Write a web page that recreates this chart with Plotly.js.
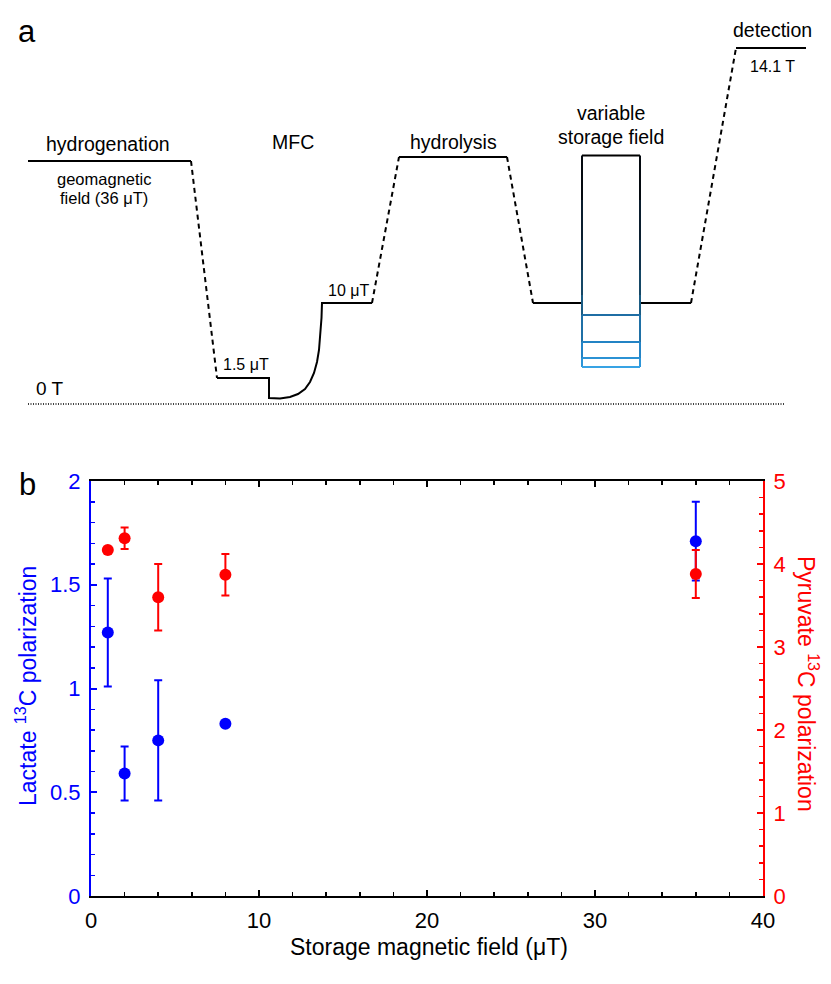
<!DOCTYPE html>
<html>
<head>
<meta charset="utf-8">
<script src="https://cdn.plot.ly/plotly-3.0.1.min.js"></script>
<style>html,body{margin:0;padding:0;background:#fff}#chart{width:831px;height:984px}</style>
</head>
<body>
<div id="chart"></div>
<script>
// ---------- Panel b data ----------
const storageField = [1, 2, 4, 8, 36];                 // µT
const lactatePol = [1.27, 0.59, 0.75, 0.83, 1.71];
const lactateErr = [0.26, 0.13, 0.29, 0, 0.19];
const pyruvatePol = [4.17, 4.31, 3.60, 3.87, 3.88];
const pyruvateErr = [0, 0.13, 0.40, 0.25, 0.29];
const xTickVals = [0, 10, 20, 30, 40];
const leftTickVals = [0, 0.5, 1, 1.5, 2];
const rightTickVals = [0, 1, 2, 3, 4, 5];

// ---------- Panel a schematic (drawn in a 831 x 430 scheme space) ----------
const schemeSolidX = [28,191,null,217,269,269,280,290,298,305,310,314,317,319,320.5,321.5,322,372,null,399,507,null,533,582,null,640,691,null,736,806];
const schemeSolidY = [161,161,null,378,378,398,398.5,397,394,389,382,373,362,350,335,318,303,303,null,157,157,null,303,303,null,303,303,null,48,48];
const schemeDashX = [191,217,null,372,399,null,507,533,null,691,736];
const schemeDashY = [161,378,null,303,157,null,157,303,null,303,48];
const schemeZeroX = [28, 785];
const schemeZeroY = [404, 404];
const boxLeft = 582, boxRight = 640, boxTop = 155.5;
const boxSideStops = [155.5, 200, 240, 270, 295, 315, 342, 358, 367];
const boxSideColors = ['#050a10','#0b1e2e','#10324c','#154766','#1a5c84','#1f70a6','#2484c6','#2d95d8'];
const storageLevels = [315, 342, 358, 367];
const storageColors = ['#1f6ea4','#2383c4','#2b92d4','#38a3e4'];
const schemeLabels = [
  {t:'hydrogenation', x:108, y:144, s:19.5},
  {t:'geomagnetic', x:104, y:179, s:16.5},
  {t:'field (36 μT)', x:104, y:198, s:16.5},
  {t:'MFC', x:293, y:142, s:19.5},
  {t:'hydrolysis', x:453, y:142, s:19.5},
  {t:'variable', x:611, y:113, s:19.5},
  {t:'storage field', x:611, y:137, s:19.5},
  {t:'detection', x:772, y:30, s:19.5},
  {t:'14.1 T', x:772, y:66, s:16},
  {t:'10 μT', x:348, y:290, s:16},
  {t:'1.5 μT', x:246, y:364, s:16},
  {t:'0 T', x:50, y:388, s:19},
  {t:'a', x:27, y:31, s:31}
];

const FONT = 'Arial, "Liberation Sans", Helvetica, sans-serif';
const W = 831, H = 984;
const traces = [];

traces.push({x: schemeSolidX, y: schemeSolidY, xaxis:'x2', yaxis:'y2', mode:'lines',
  line:{color:'#000', width:2}, connectgaps:false, hoverinfo:'skip', showlegend:false});
traces.push({x: schemeDashX, y: schemeDashY, xaxis:'x2', yaxis:'y2', mode:'lines',
  line:{color:'#000', width:2, dash:'5px,4px'}, connectgaps:false, hoverinfo:'skip', showlegend:false});
traces.push({x: schemeZeroX, y: schemeZeroY, xaxis:'x2', yaxis:'y2', mode:'lines',
  line:{color:'#000', width:1.5, dash:'1px,1.5px'}, hoverinfo:'skip', showlegend:false});
// box top
traces.push({x:[boxLeft, boxRight], y:[boxTop, boxTop], xaxis:'x2', yaxis:'y2', mode:'lines',
  line:{color:'#000', width:2}, hoverinfo:'skip', showlegend:false});
// gradient sides
for (let i = 0; i < boxSideColors.length; i++) {
  traces.push({x:[boxLeft, boxLeft, null, boxRight, boxRight],
    y:[boxSideStops[i], boxSideStops[i+1], null, boxSideStops[i], boxSideStops[i+1]],
    xaxis:'x2', yaxis:'y2', mode:'lines', connectgaps:false,
    line:{color: boxSideColors[i], width:2}, hoverinfo:'skip', showlegend:false});
}
for (let i = 0; i < storageLevels.length; i++) {
  traces.push({x:[boxLeft, boxRight], y:[storageLevels[i], storageLevels[i]], xaxis:'x2', yaxis:'y2',
    mode:'lines', line:{color: storageColors[i], width:2}, hoverinfo:'skip', showlegend:false});
}

// panel b
traces.push({x: storageField, y: lactatePol, xaxis:'x', yaxis:'y', mode:'markers', name:'Lactate',
  marker:{color:'#0000ff', size:12},
  error_y:{type:'data', array: lactateErr, visible:true, color:'#0000ff', thickness:2, width:4},
  showlegend:false});
traces.push({x: storageField, y: pyruvatePol, xaxis:'x', yaxis:'y3', mode:'markers', name:'Pyruvate',
  marker:{color:'#ff0000', size:12},
  error_y:{type:'data', array: pyruvateErr, visible:true, color:'#ff0000', thickness:2, width:4},
  showlegend:false});

const px = v => v / W, py = v => 1 - v / H;

const annotations = schemeLabels.map(l => ({
  text: l.t, x: l.x, y: l.y, xref:'x2', yref:'y2', showarrow:false,
  xanchor:'center', yanchor:'middle', font:{family:FONT, size:l.s, color:'#000'}
}));
annotations.push({text:'b', x:px(28), y:py(484), xref:'paper', yref:'paper', showarrow:false,
  xanchor:'center', yanchor:'middle', font:{family:FONT, size:31, color:'#000'}});
annotations.push({text:'Storage magnetic field (μT)', x:px(429), y:py(947), xref:'paper', yref:'paper',
  showarrow:false, xanchor:'center', yanchor:'middle', font:{family:FONT, size:23, color:'#000'}});
annotations.push({text:'Lactate <sup>13</sup>C polarization', x:px(26), y:py(686), xref:'paper', yref:'paper',
  showarrow:false, textangle:-90, xanchor:'center', yanchor:'middle', font:{family:FONT, size:23, color:'#0000ff'}});
annotations.push({text:'Pyruvate <sup>13</sup>C polarization', x:px(808), y:py(684), xref:'paper', yref:'paper',
  showarrow:false, textangle:90, xanchor:'center', yanchor:'middle', font:{family:FONT, size:23, color:'#ff0000'}});

const layout = {
  width: W, height: H,
  margin:{l:0, r:0, t:0, b:0},
  paper_bgcolor:'#fff', plot_bgcolor:'rgba(0,0,0,0)',
  showlegend:false,
  font:{family:FONT, color:'#000'},
  xaxis:{domain:[px(91), px(763)], range:[0, 40], anchor:'y',
    tickvals: xTickVals, ticks:'inside', ticklen:6, tickwidth:2, tickcolor:'#000',
    minor:{dtick:2, tick0:0, ticks:'inside', ticklen:4, tickwidth:1.5, tickcolor:'#000'},
    showline:true, linecolor:'#000', linewidth:2, mirror:'ticks',
    showgrid:false, zeroline:false, tickfont:{family:FONT, size:22, color:'#000'}, ticklabelstandoff:4},
  yaxis:{domain:[1 - 896/H, 1 - 481/H], range:[0, 2], anchor:'x',
    tickvals: leftTickVals, ticks:'inside', ticklen:6, tickwidth:2, tickcolor:'#0000ff',
    minor:{dtick:0.1, tick0:0, ticks:'inside', ticklen:4, tickwidth:1.5, tickcolor:'#0000ff'},
    showline:true, linecolor:'#0000ff', linewidth:2,
    showgrid:false, zeroline:false, tickfont:{family:FONT, size:22, color:'#0000ff'}, ticklabelstandoff:4},
  yaxis3:{domain:[1 - 896/H, 1 - 481/H], range:[0, 5], overlaying:'y', side:'right', anchor:'x',
    tickvals: rightTickVals, ticks:'inside', ticklen:6, tickwidth:2, tickcolor:'#ff0000',
    minor:{dtick:0.2, tick0:0, ticks:'inside', ticklen:4, tickwidth:1.5, tickcolor:'#ff0000'},
    showline:true, linecolor:'#ff0000', linewidth:2,
    showgrid:false, zeroline:false, tickfont:{family:FONT, size:22, color:'#ff0000'}, ticklabelstandoff:4},
  xaxis2:{domain:[0, 1], range:[0, W], anchor:'y2', visible:false, fixedrange:true},
  yaxis2:{domain:[1 - 430/H, 1], range:[430, 0], anchor:'x2', visible:false, fixedrange:true},
  annotations: annotations
};

Plotly.newPlot('chart', traces, layout, {staticPlot:true, displayModeBar:false});
</script>
</body>
</html>
